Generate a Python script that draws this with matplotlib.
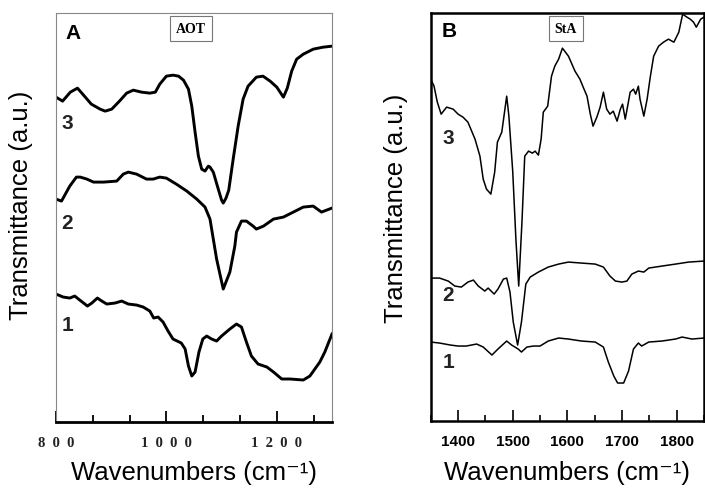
import numpy as np
import matplotlib
matplotlib.use('Agg')
from matplotlib import pyplot as plt
from matplotlib.ticker import MultipleLocator, FixedLocator

# Panel A (AOT), wavenumber / transmittance (a.u.)
a3_x = [800, 812, 826, 839, 850, 864, 880, 889, 901, 915, 928, 940, 955, 970, 980, 988, 1000, 1012,
        1022, 1031, 1040, 1046, 1052, 1058, 1064, 1070, 1076, 1079, 1085, 1094, 1100, 1103, 1108,
        1113, 1121, 1130, 1139, 1148, 1163, 1175, 1188, 1200, 1212, 1219, 1227, 1236, 1248, 1266,
        1284, 1300]
a3_y = [325, 321, 330, 334, 327, 318, 313, 311, 313, 321, 329, 332, 330, 329, 330, 338, 346, 347,
        346, 342, 333, 316, 290, 266, 253, 251, 256, 255, 250, 233, 222, 219, 224, 232, 263, 296,
        323, 336, 345, 346, 341, 335, 325, 334, 351, 363, 368, 373, 375, 376]

a2_x = [800, 810, 825, 837, 844, 856, 868, 886, 910, 922, 931, 946, 964, 976, 988, 1000, 1018, 1037,
        1055, 1070, 1079, 1085, 1091, 1103, 1115, 1124, 1127, 1136, 1145, 1157, 1163, 1176, 1194,
        1212, 1230, 1248, 1266, 1281, 1300]
a2_y = [223, 221, 236, 245, 245, 243, 240, 240, 241, 248, 250, 248, 243, 243, 245, 244, 238, 231,
        223, 215, 203, 183, 163, 133, 150, 176, 190, 201, 201, 196, 193, 196, 203, 205, 210, 215,
        216, 210, 214]

a1_x = [800, 813, 825, 834, 843, 857, 865, 875, 883, 892, 907, 919, 931, 946, 958, 970, 977, 985,
        994, 1003, 1012, 1027, 1034, 1040, 1046, 1052, 1059, 1066, 1073, 1082, 1091, 1100, 1115,
        1127, 1136, 1145, 1154, 1166, 1182, 1194, 1209, 1224, 1248, 1260, 1278, 1287, 1300]
a1_y = [128, 125, 124, 126, 122, 116, 119, 124, 121, 118, 119, 121, 118, 117, 115, 111, 104, 105,
        100, 91, 83, 79, 73, 56, 46, 50, 70, 83, 86, 83, 81, 86, 93, 98, 95, 80, 66, 58, 55, 50,
        43, 43, 42, 46, 60, 70, 88]

a_ticks = [800, 1000, 1200]
a_ticklabels = ['8  0  0', '1  0  0  0', '1  2  0  0']

# Panel B (StA)
b3_x = [1350, 1356, 1362, 1369, 1379, 1391, 1400, 1409, 1418, 1431, 1440, 1446, 1452, 1460, 1467,
        1472, 1480, 1489, 1493, 1500, 1506, 1511, 1517, 1522, 1529, 1536, 1541, 1547, 1552, 1556,
        1564, 1571, 1577, 1584, 1591, 1602, 1614, 1623, 1629, 1636, 1642, 1647, 1654, 1660, 1666,
        1672, 1678, 1684, 1691, 1697, 1701, 1706, 1715, 1721, 1725, 1730, 1733, 1740, 1746, 1752,
        1758, 1767, 1776, 1785, 1795, 1804, 1811, 1819, 1825, 1831, 1836, 1844, 1850]
b3_y = [342, 335, 319, 307, 314, 312, 307, 304, 299, 282, 265, 242, 232, 227, 249, 279, 289, 325,
        305, 250, 180, 135, 200, 265, 270, 268, 270, 266, 282, 309, 315, 345, 355, 362, 373, 365,
        350, 342, 334, 325, 307, 295, 304, 314, 329, 312, 307, 310, 300, 312, 317, 302, 329, 332,
        327, 335, 322, 305, 322, 345, 365, 375, 379, 382, 379, 389, 407, 404, 402, 399, 394, 402,
        404]

b2_x = [1350, 1366, 1382, 1394, 1406, 1418, 1428, 1437, 1449, 1455, 1466, 1473, 1483, 1489, 1495,
        1501, 1509, 1516, 1524, 1532, 1547, 1565, 1584, 1602, 1626, 1651, 1666, 1678, 1688, 1700,
        1709, 1718, 1730, 1740, 1749, 1773, 1798, 1822, 1850]
b2_y = [143, 143, 140, 135, 134, 139, 141, 135, 130, 133, 127, 132, 142, 143, 129, 99, 76, 99, 137,
        144, 149, 154, 157, 159, 158, 157, 154, 145, 140, 139, 140, 147, 150, 149, 153, 155, 157,
        159, 160]

b1_x = [1350, 1366, 1386, 1400, 1415, 1434, 1446, 1462, 1473, 1489, 1498, 1510, 1516, 1526, 1538,
        1550, 1565, 1584, 1602, 1626, 1651, 1666, 1675, 1685, 1692, 1703, 1712, 1721, 1730, 1736,
        1749, 1773, 1798, 1810, 1828, 1850]
b1_y = [79, 78, 76, 75, 75, 77, 74, 66, 72, 80, 76, 72, 69, 74, 75, 75, 80, 83, 82, 80, 79, 74, 59,
        45, 38, 38, 50, 72, 78, 75, 79, 80, 82, 84, 82, 83]

fig = plt.figure(figsize=(7.05, 4.89), dpi=100)
axA = fig.add_axes([0.0794, 0.135, 0.3915, 0.836])
axB = fig.add_axes([0.611, 0.137, 0.3875, 0.834])

# ---- panel A
for x, y in [(a3_x, a3_y), (a2_x, a2_y), (a1_x, a1_y)]:
    axA.plot(x, y, color='black', lw=2.1, solid_joinstyle='round')
axA.set_xlim(800, 1300)
axA.set_ylim(0, 409)
axA.set_yticks([])
axA.xaxis.set_major_locator(FixedLocator(a_ticks))
axA.xaxis.set_minor_locator(FixedLocator([866.7, 933.3, 1066.7, 1133.3, 1266.7]))
axA.set_xticklabels(a_ticklabels, family='Liberation Serif',
                    fontweight='bold', fontsize=10.5, color='#222222')
axA.tick_params(axis='x', which='major', direction='in', length=8, width=1.3, pad=10)
axA.tick_params(axis='x', which='minor', direction='in', length=5, width=1.3)
for s in ['left', 'top', 'right']:
    axA.spines[s].set_color('#888888')
    axA.spines[s].set_linewidth(0.8)
axA.spines['bottom'].set_linewidth(2.0)
axA.text(0.035, 0.975, 'A', transform=axA.transAxes, fontsize=15, fontweight='bold',
         family='Liberation Sans', va='top')
axA.text(0.49, 0.962, 'AOT', transform=axA.transAxes, fontsize=10, fontweight='bold',
         family='Liberation Serif', ha='center', va='center',
         bbox=dict(boxstyle='square,pad=0.45', fc='white', ec='#777777', lw=0.8))
for lbl, yy in [('3', 300), ('2', 200), ('1', 98)]:
    axA.text(820, yy, lbl, fontsize=15, fontweight='bold', family='Liberation Sans',
             ha='center', va='center', color='#222222')

# ---- panel B
for x, y in [(b3_x, b3_y), (b2_x, b2_y), (b1_x, b1_y)]:
    axB.plot(x, y, color='black', lw=1.1)
axB.set_xlim(1350, 1850)
axB.set_ylim(0, 408)
axB.set_yticks([])
axB.xaxis.set_major_locator(MultipleLocator(100))
axB.xaxis.set_minor_locator(MultipleLocator(50))
axB.tick_params(axis='x', which='major', direction='in', length=8, width=1.2, pad=9,
                labelsize=11)
axB.tick_params(axis='x', which='minor', direction='in', length=4, width=1.2)
for t in axB.get_xticklabels():
    t.set_fontweight('bold')
    t.set_family('Liberation Sans')
for s in axB.spines.values():
    s.set_linewidth(1.8)
axB.text(0.04, 0.98, 'B', transform=axB.transAxes, fontsize=15, fontweight='bold',
         family='Liberation Sans', va='top')
axB.text(0.495, 0.962, 'StA', transform=axB.transAxes, fontsize=10, fontweight='bold',
         family='Liberation Serif', ha='center', va='center',
         bbox=dict(boxstyle='square,pad=0.45', fc='white', ec='#777777', lw=0.8))
for lbl, yy in [('3', 284), ('2', 127), ('1', 60)]:
    axB.text(1382, yy, lbl, fontsize=15, fontweight='bold', family='Liberation Sans',
             ha='center', va='center', color='#222222')

for ax, xr, yc in [(axA, 33, 205), (axB, 408, 208)]:
    ax.set_ylabel('Transmittance (a.u.)', fontsize=18.5, family='Liberation Sans')
    ax.set_xlabel('Wavenumbers (cm\u207b\u00b9)', fontsize=18.5,
                  family=['Liberation Sans', 'DejaVu Sans'])
    pos = ax.get_position()
    x0, w = pos.x0 * 705, pos.width * 705
    y0, h = (1 - pos.y0) * 489, pos.height * 489
    ax.yaxis.set_label_coords((xr - x0) / w, (y0 - yc) / h)
    ax.xaxis.set_label_coords(0.5, -(461 - y0) / h)

fig.savefig('out.png', dpi=100)
